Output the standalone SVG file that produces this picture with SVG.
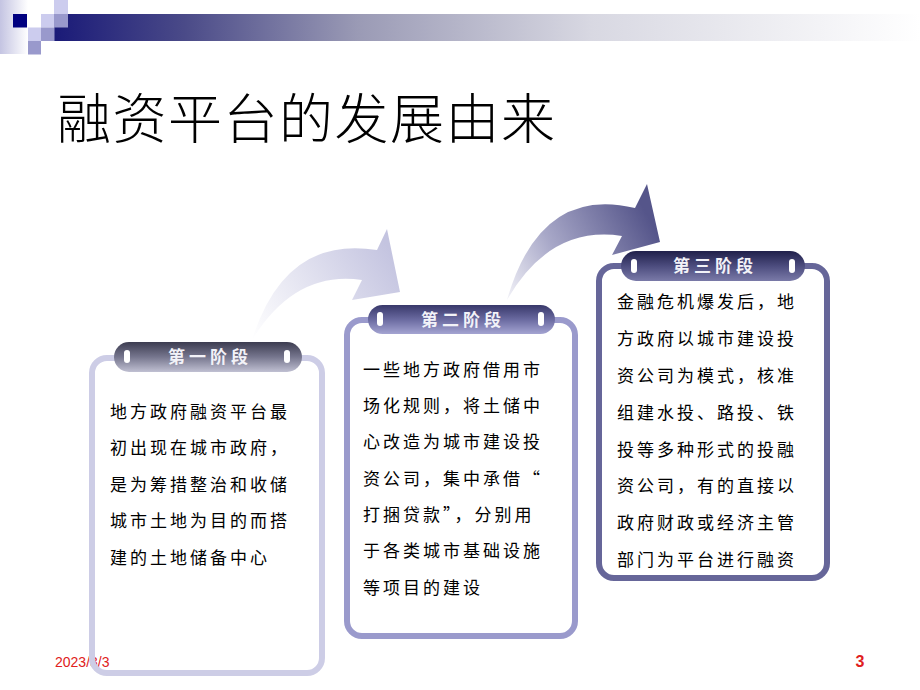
<svg xmlns="http://www.w3.org/2000/svg" width="920" height="690" viewBox="0 0 920 690">
  <defs>
    <linearGradient id="band" x1="54" y1="0" x2="920" y2="0" gradientUnits="userSpaceOnUse">
      <stop offset="0" stop-color="#1a1a78"/>
      <stop offset="0.15" stop-color="#4a4a88"/>
      <stop offset="0.35" stop-color="#9a9ab5"/>
      <stop offset="0.62" stop-color="#d8d8e2"/>
      <stop offset="1" stop-color="#ffffff"/>
    </linearGradient>
    <linearGradient id="strip" x1="0" y1="0" x2="1" y2="0">
      <stop offset="0" stop-color="#c4c4e2"/>
      <stop offset="1" stop-color="#ffffff"/>
    </linearGradient>
    <linearGradient id="pill1" x1="0" y1="0" x2="0" y2="1">
      <stop offset="0" stop-color="#3c3c50"/>
      <stop offset="0.5" stop-color="#76768e"/>
      <stop offset="1" stop-color="#c0c0d2"/>
    </linearGradient>
    <linearGradient id="pill2" x1="0" y1="0" x2="0" y2="1">
      <stop offset="0" stop-color="#38386a"/>
      <stop offset="0.5" stop-color="#6a6aa0"/>
      <stop offset="1" stop-color="#a4a4d2"/>
    </linearGradient>
    <linearGradient id="pill3" x1="0" y1="0" x2="0" y2="1">
      <stop offset="0" stop-color="#20204a"/>
      <stop offset="0.5" stop-color="#4c4c7e"/>
      <stop offset="1" stop-color="#7a7aa8"/>
    </linearGradient>
    <linearGradient id="arr1" x1="252" y1="340" x2="390" y2="250" gradientUnits="userSpaceOnUse">
      <stop offset="0" stop-color="#ffffff"/>
      <stop offset="1" stop-color="#c4c4e0"/>
    </linearGradient>
    <linearGradient id="arr2" x1="507" y1="300" x2="650" y2="220" gradientUnits="userSpaceOnUse">
      <stop offset="0" stop-color="#f2f2f8"/>
      <stop offset="0.4" stop-color="#a8a8c8"/>
      <stop offset="1" stop-color="#55558a"/>
    </linearGradient>
    <style>
      .body { font-family: "Noto Sans CJK SC", sans-serif; font-size: 17px; letter-spacing: 3px; fill: #000; }
      .head { font-family: "Noto Sans CJK SC", sans-serif; font-size: 17px; font-weight: bold; letter-spacing: 4px; fill: #f2f2f8; text-anchor: middle; }
      .frame { fill: none; stroke-width: 6; }
      .hole { fill: #ffffff; }
    </style>
  </defs>

  <!-- top-left decoration -->
  <g id="decoration">
    <rect x="0" y="0" width="28" height="54" fill="url(#strip)"/>
    <rect x="54" y="14" width="866" height="27" fill="url(#band)"/>
    <rect x="13" y="14" width="14" height="13.5" fill="#000080"/>
    <rect x="41" y="14" width="13.5" height="13.5" fill="#ccccee"/>
    <rect x="54" y="14" width="14" height="13.5" fill="#9999cc"/>
    <rect x="54" y="0" width="14" height="14" fill="#ccccee"/>
    <rect x="28" y="27.5" width="13" height="13.5" fill="#ccccee"/>
    <rect x="41" y="27.5" width="13.5" height="13.5" fill="#9999cc"/>
    <rect x="28" y="41" width="13" height="13.5" fill="#9999cc"/>
  </g>

  <text id="title" x="57" y="139" font-family="Noto Sans CJK SC, sans-serif" font-size="54" font-weight="300" letter-spacing="1.5" fill="#000">融资平台的发展由来</text>

  <text x="55" y="667" font-family="Liberation Sans Narrow, Liberation Sans, sans-serif" font-size="14" fill="#e02020">2023/3/3</text>
  <text x="860" y="667" font-family="Liberation Sans, sans-serif" font-size="16" font-weight="bold" fill="#e02020" text-anchor="middle">3</text>

  <!-- connectors -->
  <g id="connectors">
    <path d="M252,340 Q285,235 377,250 L387,229 L400,292 L352,300 L362,280 Q295,270 252,340 Z" fill="url(#arr1)"/>
    <path d="M507,300 Q540,185 635,208 L647,184 L660,242 L612,255 L622,236 Q550,225 507,300 Z" fill="url(#arr2)"/>
  </g>

  <g id="stage1">
    <rect class="frame" x="92" y="358" width="230" height="315" rx="15" stroke="#cdcde6"/>
    <rect x="114" y="342" width="188" height="30" rx="15" fill="url(#pill1)"/>
    <rect class="hole" x="124" y="350" width="6" height="13" rx="3"/>
    <rect class="hole" x="284" y="350" width="6" height="13" rx="3"/>
    <text class="head" x="210" y="363">第一阶段</text>
    <text class="body" x="110" y="418">地方政府融资平台最</text>
    <text class="body" x="110" y="454">初出现在城市政府，</text>
    <text class="body" x="110" y="491">是为筹措整治和收储</text>
    <text class="body" x="110" y="527">城市土地为目的而搭</text>
    <text class="body" x="110" y="564">建的土地储备中心</text>
  </g>

  <g id="stage2">
    <rect class="frame" x="347" y="320" width="228" height="316" rx="15" stroke="#9a9acc"/>
    <rect x="368" y="305" width="187" height="29" rx="14.5" fill="url(#pill2)"/>
    <rect class="hole" x="377" y="312" width="6" height="14" rx="3"/>
    <rect class="hole" x="538" y="312" width="6" height="14" rx="3"/>
    <text class="head" x="463" y="326">第二阶段</text>
    <text class="body" x="363" y="376">一些地方政府借用市</text>
    <text class="body" x="363" y="412">场化规则，将土储中</text>
    <text class="body" x="363" y="448">心改造为城市建设投</text>
    <text class="body" x="363" y="485">资公司，集中承借“</text>
    <text class="body" x="363" y="521">打捆贷款”，分别用</text>
    <text class="body" x="363" y="557">于各类城市基础设施</text>
    <text class="body" x="363" y="594">等项目的建设</text>
  </g>

  <g id="stage3">
    <rect class="frame" x="599" y="266" width="228" height="312" rx="15" stroke="#666699"/>
    <rect x="621" y="251" width="184" height="30" rx="15" fill="url(#pill3)"/>
    <rect class="hole" x="631" y="259" width="6" height="14" rx="3"/>
    <rect class="hole" x="789" y="259" width="6" height="14" rx="3"/>
    <text class="head" x="715" y="272">第三阶段</text>
    <text class="body" x="617" y="308">金融危机爆发后，地</text>
    <text class="body" x="617" y="345">方政府以城市建设投</text>
    <text class="body" x="617" y="382">资公司为模式，核准</text>
    <text class="body" x="617" y="419">组建水投、路投、铁</text>
    <text class="body" x="617" y="456">投等多种形式的投融</text>
    <text class="body" x="617" y="492">资公司，有的直接以</text>
    <text class="body" x="617" y="529">政府财政或经济主管</text>
    <text class="body" x="617" y="566">部门为平台进行融资</text>
  </g>
</svg>
